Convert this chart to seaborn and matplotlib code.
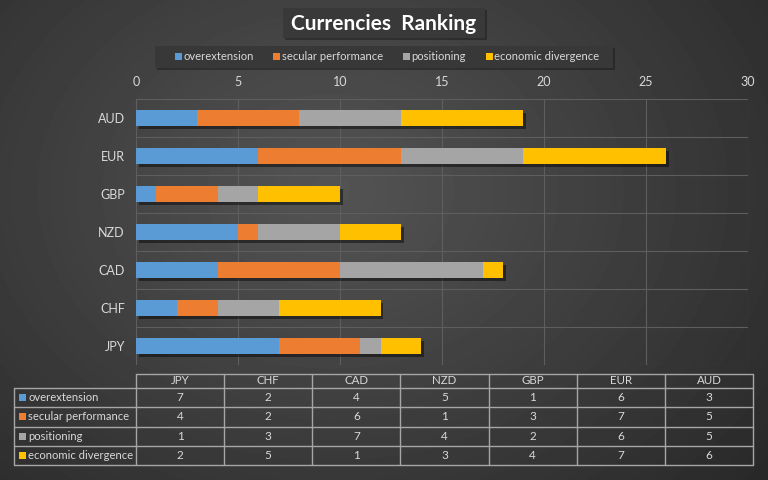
import numpy as np
import pandas as pd
import matplotlib
matplotlib.use("Agg")
import matplotlib.pyplot as plt
import seaborn as sns
from matplotlib import patheffects as pe
from matplotlib.patches import Rectangle

# ---- data ----
currencies = ["JPY", "CHF", "CAD", "NZD", "GBP", "EUR", "AUD"]
series = ["overextension", "secular performance", "positioning", "economic divergence"]
overextension = [7, 2, 4, 5, 1, 6, 3]
secular_performance = [4, 2, 6, 1, 3, 7, 5]
positioning = [1, 3, 7, 4, 2, 6, 5]
economic_divergence = [2, 5, 1, 3, 4, 7, 6]
x_ticks = [0, 5, 10, 15, 20, 25, 30]
title = "Currencies  Ranking"

colors = ["#5B9BD5", "#ED7D31", "#A5A5A5", "#FFC000"]
txt = "#d9d9d9"

sns.set_theme(style="dark")
plt.rcParams["font.family"] = ["Lato", "DejaVu Sans"]

W, H = 768, 480
fig = plt.figure(figsize=(W / 100, H / 100), dpi=100)

# background radial gradient
bg = fig.add_axes([0, 0, 1, 1], zorder=-10)
yy, xx = np.mgrid[0:H, 0:W]
r = np.hypot((xx - 330) / W, (yy - 190) / H * 0.8)
v = np.clip(0.33 - 0.23 * r, 0.16, 0.33)
bg.imshow(v, cmap="gray", vmin=0, vmax=1, extent=[0, W, H, 0], aspect="auto", interpolation="bilinear")
bg.axis("off")

# ---- bar chart ----
df = pd.DataFrame({
    "currency": currencies,
    series[0]: overextension,
    series[1]: secular_performance,
    series[2]: positioning,
    series[3]: economic_divergence,
})
cum = df.copy()
cum[series] = df[series].cumsum(axis=1)
order = currencies[::-1]

ax = fig.add_axes([136 / W, 1 - 365 / H, (747.7 - 136) / W, 266 / H])
ax.patch.set_alpha(0)
for i in reversed(range(len(series))):
    n_before = len(ax.patches)
    sns.barplot(data=cum, x=series[i], y="currency", order=order, orient="h",
                color=colors[i], saturation=1, width=0.42, ax=ax, zorder=3)
    if i == len(series) - 1:
        for p in ax.patches[n_before:]:
            p.set_path_effects([pe.SimplePatchShadow(offset=(2, -2.5), shadow_rgbFace="black", alpha=0.45),
                                pe.Normal()])
    for p in ax.patches[n_before:]:
        p.set_linewidth(0)

ax.set_xlim(0, 30)
ax.set_ylim(6.5, -0.5)
ax.set_xlabel("")
ax.set_ylabel("")
ax.xaxis.tick_top()
ax.set_xticks(x_ticks)
ax.set_xticklabels([str(t) for t in x_ticks])
ax.tick_params(axis="x", colors=txt, labelsize=9, length=0, pad=8)
ax.tick_params(axis="y", colors=txt, labelsize=9, length=0, pad=8)
ax.set_yticks(np.arange(-0.5, 7, 1), minor=True)
ax.grid(False)
ax.grid(axis="x", which="major", color="#5e5e5e", lw=0.8)
ax.grid(axis="y", which="minor", color="#5e5e5e", lw=0.8)
ax.tick_params(axis="y", which="minor", length=0)
ax.set_axisbelow(True)
for s in ax.spines.values():
    s.set_visible(False)

# ---- overlay: title, legend, table ----
ov = fig.add_axes([0, 0, 1, 1], zorder=5)
ov.set_xlim(0, W)
ov.set_ylim(H, 0)
ov.axis("off")
shadow = [pe.SimplePatchShadow(offset=(1.5, -1.5), shadow_rgbFace="black", alpha=0.3), pe.Normal()]

tb = Rectangle((283, 8), 202, 30, fc="#393939", ec="none")
tb.set_path_effects(shadow)
ov.add_patch(tb)
ov.text(384, 23.5, title, ha="center", va="center", color="white", fontsize=15, fontweight="bold")

lb = Rectangle((155, 46), 458, 22, fc="#383838", ec="none")
lb.set_path_effects(shadow)
ov.add_patch(lb)
leg_x = [175, 273, 402.5, 485.5]
for i, name in enumerate(series):
    ov.add_patch(Rectangle((leg_x[i], 53), 7, 7, fc=colors[i], ec="none"))
    ov.text(leg_x[i] + 9, 56.5, name, ha="left", va="center", color=txt, fontsize=8.1)

# table
col_edges = np.linspace(136, 753, len(currencies) + 1)
row_edges = [388, 407.3, 426.6, 445.8, 465]
lc = "#a6a6a6"
ov.plot([136, 753], [374, 374], color=lc, lw=1)
for y in row_edges:
    ov.plot([14, 753], [y, y], color=lc, lw=1)
for x in col_edges:
    ov.plot([x, x], [374, 465], color=lc, lw=1)
ov.plot([14, 14], [388, 465], color=lc, lw=1)
for j, c in enumerate(currencies):
    ov.text((col_edges[j] + col_edges[j + 1]) / 2, 381, c, ha="center", va="center", color=txt, fontsize=8.3)
rows = [overextension, secular_performance, positioning, economic_divergence]
for i, name in enumerate(series):
    yc = (row_edges[i] + row_edges[i + 1]) / 2
    ov.add_patch(Rectangle((19, yc - 3.5), 7, 7, fc=colors[i], ec="none"))
    ov.text(28.5, yc, name, ha="left", va="center", color=txt, fontsize=8.1)
    for j, val in enumerate(rows[i]):
        ov.text((col_edges[j] + col_edges[j + 1]) / 2, yc, str(val), ha="center", va="center", color=txt, fontsize=8.5)

fig.savefig("out.png", dpi=100)
